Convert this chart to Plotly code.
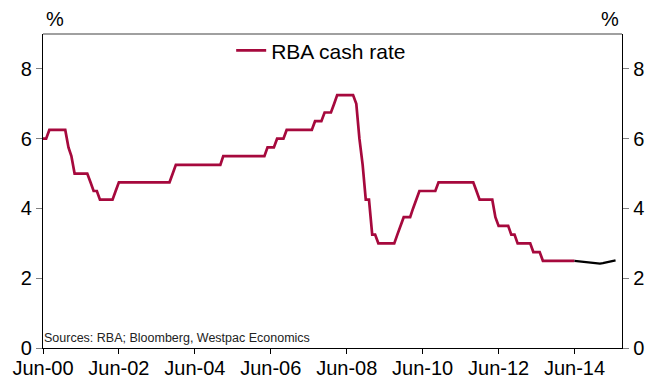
import pandas as pd
import plotly.graph_objects as go

# RBA cash rate target, month by month from Jun-2000 to Jun-2014 (%)
cash_rate = [
    # 2000 Jun-Dec
    6.00, 6.00, 6.25, 6.25, 6.25, 6.25, 6.25,
    # 2001
    6.25, 5.75, 5.50, 5.00, 5.00, 5.00, 5.00, 5.00, 4.75, 4.50, 4.50, 4.25,
    # 2002
    4.25, 4.25, 4.25, 4.25, 4.50, 4.75, 4.75, 4.75, 4.75, 4.75, 4.75, 4.75,
    # 2003
    4.75, 4.75, 4.75, 4.75, 4.75, 4.75, 4.75, 4.75, 4.75, 4.75, 5.00, 5.25,
    # 2004
    5.25, 5.25, 5.25, 5.25, 5.25, 5.25, 5.25, 5.25, 5.25, 5.25, 5.25, 5.25,
    # 2005
    5.25, 5.25, 5.50, 5.50, 5.50, 5.50, 5.50, 5.50, 5.50, 5.50, 5.50, 5.50,
    # 2006
    5.50, 5.50, 5.50, 5.50, 5.75, 5.75, 5.75, 6.00, 6.00, 6.00, 6.25, 6.25,
    # 2007
    6.25, 6.25, 6.25, 6.25, 6.25, 6.25, 6.25, 6.50, 6.50, 6.50, 6.75, 6.75,
    # 2008
    6.75, 7.00, 7.25, 7.25, 7.25, 7.25, 7.25, 7.25, 7.00, 6.00, 5.25, 4.25,
    # 2009
    4.25, 3.25, 3.25, 3.00, 3.00, 3.00, 3.00, 3.00, 3.00, 3.25, 3.50, 3.75,
    # 2010
    3.75, 3.75, 4.00, 4.25, 4.50, 4.50, 4.50, 4.50, 4.50, 4.50, 4.75, 4.75,
    # 2011
    4.75, 4.75, 4.75, 4.75, 4.75, 4.75, 4.75, 4.75, 4.75, 4.75, 4.50, 4.25,
    # 2012
    4.25, 4.25, 4.25, 4.25, 3.75, 3.50, 3.50, 3.50, 3.50, 3.25, 3.25, 3.00,
    # 2013
    3.00, 3.00, 3.00, 3.00, 2.75, 2.75, 2.75, 2.50, 2.50, 2.50, 2.50, 2.50,
    # 2014 Jan-Jun
    2.50, 2.50, 2.50, 2.50, 2.50, 2.50,
]
cash_dates = pd.date_range("2000-06-01", periods=len(cash_rate), freq="MS")

# Market-implied path, Jun-2014 to Jul-2015 (%)
implied_rate = [2.50, 2.49, 2.48, 2.47, 2.46, 2.45, 2.44,
                2.42, 2.42, 2.43, 2.45, 2.46, 2.48, 2.51]
implied_dates = pd.date_range("2014-06-01", periods=len(implied_rate), freq="MS")

y_ticks = [0, 2, 4, 6, 8]

RED = "#A6093D"
FONT = "Arial, Liberation Sans, sans-serif"

fig = go.Figure()
fig.add_trace(go.Scatter(
    x=cash_dates, y=cash_rate, mode="lines", name="RBA cash rate",
    line=dict(color=RED, width=2.7), showlegend=True,
))
fig.add_trace(go.Scatter(
    x=implied_dates, y=implied_rate, mode="lines", name="Market pricing",
    line=dict(color="#000000", width=2.3), showlegend=False,
))
# right-hand axis mirrors the left scale
fig.add_trace(go.Scatter(
    x=[cash_dates[0]], y=[cash_rate[0]], yaxis="y2", mode="lines",
    line=dict(width=0), showlegend=False, hoverinfo="skip",
))

axis_common = dict(
    range=[0, 9], tickvals=y_ticks, ticks="outside", ticklen=6,
    tickcolor="#808080", tickwidth=1.3, showgrid=False, zeroline=False,
    showline=True, linecolor="#000000", linewidth=1.3, automargin=False,
    tickfont=dict(family=FONT, size=20, color="#000000"),
)

fig.update_layout(
    width=665, height=380,
    margin=dict(l=43, r=43, t=34, b=32),
    paper_bgcolor="white", plot_bgcolor="white",
    font=dict(family=FONT, color="#000000"),
    xaxis=dict(
        type="date", range=["2000-06-01", "2015-09-01"],
        tick0="2000-06-01", dtick="M24", tickformat="%b-%y",
        ticks="outside", ticklen=5, tickcolor="#000000", tickwidth=1.3,
        ticklabelstandoff=-3,
        showgrid=False, zeroline=False, showline=True, automargin=False,
        linecolor="#000000", linewidth=1.3,
        tickfont=dict(family=FONT, size=20, color="#000000"),
    ),
    yaxis=dict(side="left", **axis_common),
    yaxis2=dict(side="right", overlaying="y", **axis_common),
    legend=dict(
        x=0.325, y=1.012, xanchor="left", yanchor="top",
        bgcolor="rgba(0,0,0,0)", borderwidth=0,
        font=dict(family=FONT, size=21, color="#000000"),
        itemwidth=30,
    ),
    shapes=[dict(
        type="line", xref="paper", yref="paper", x0=0, x1=1, y0=1, y1=1,
        line=dict(color="#808080", width=1.3),
    )],
    annotations=[
        dict(text="%", xref="paper", yref="paper", x=0.021, y=1.0,
             xanchor="center", yanchor="bottom", yshift=2, showarrow=False,
             font=dict(family=FONT, size=20, color="#000000")),
        dict(text="%", xref="paper", yref="paper", x=0.979, y=1.0,
             xanchor="center", yanchor="bottom", yshift=2, showarrow=False,
             font=dict(family=FONT, size=20, color="#000000")),
        dict(text="Sources: RBA; Bloomberg, Westpac Economics",
             xref="paper", yref="paper", x=0.0, y=0.0, xanchor="left",
             yanchor="bottom", xshift=-1, yshift=1, showarrow=False,
             font=dict(family=FONT, size=12.5, color="#222222")),
    ],
)

fig.write_html("out.html")
